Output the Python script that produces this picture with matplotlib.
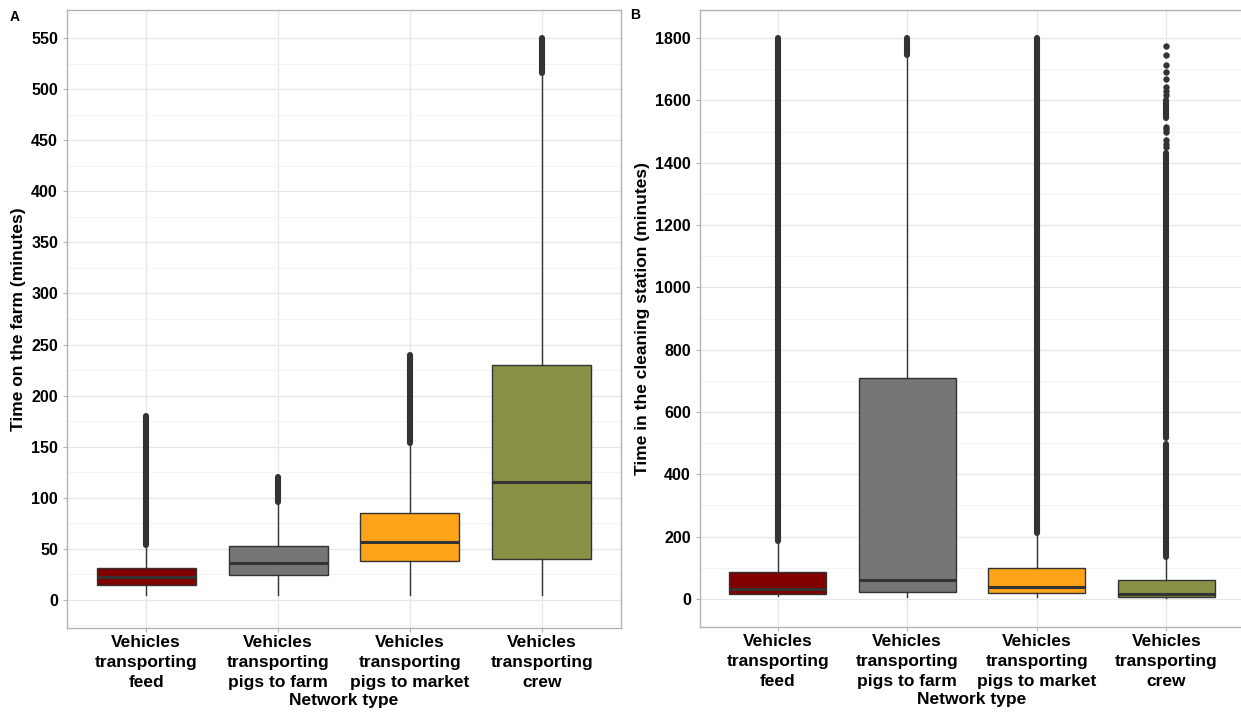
import matplotlib
matplotlib.use("Agg")
import matplotlib.pyplot as plt
from matplotlib.ticker import MultipleLocator

plt.rcParams["font.family"] = ["Liberation Sans", "DejaVu Sans"]
plt.rcParams["font.weight"] = "bold"

# Network types (x categories) and box fill colours
categories = ["Vehicles\ntransporting\nfeed",
              "Vehicles\ntransporting\npigs to farm",
              "Vehicles\ntransporting\npigs to market",
              "Vehicles\ntransporting\ncrew"]
colors = ["#800000", "#767676", "#FFA319", "#8A9045"]

# Panel A: time on the farm (minutes)
farm_whislo = [5, 5, 5, 5]
farm_q1 = [15, 24.5, 38.5, 40.5]
farm_med = [22.5, 36.5, 56.5, 115]
farm_q3 = [31, 53, 85, 230]
farm_whishi = [53, 94, 152, 514]
farm_outlier_ranges = [[(54, 180)], [(96, 120)], [(154, 240)], [(516, 550)]]
farm_outlier_points = [[], [], [], []]

# Panel B: time in the cleaning station (minutes)
clean_whislo = [10, 5, 7, 2]
clean_q1 = [16, 23, 20, 5]
clean_med = [33, 60, 37, 16]
clean_q3 = [85, 710, 99, 61]
clean_whishi = [185, 1740, 211, 132]
clean_outlier_ranges = [[(187, 1800)], [(1745, 1800)], [(213, 1800)],
                        [(134, 496), (518, 1430), (1542, 1600)]]
clean_outlier_points = [[], [], [],
                        [1451, 1460, 1472, 1499, 1508, 1515, 1617, 1630,
                         1643, 1670, 1691, 1713, 1745, 1774]]

EDGE = "#333333"
GRID_MAJOR = "#e6e6e6"
GRID_MINOR = "#f3f3f3"
BORDER = "#b3b3b3"


def draw_panel(ax, whislo, q1, med, q3, whishi, ranges, points,
               ylim, major, ylabel):
    stats = []
    for i in range(len(categories)):
        stats.append(dict(whislo=whislo[i], q1=q1[i], med=med[i],
                          q3=q3[i], whishi=whishi[i], fliers=[]))
    pos = list(range(1, len(categories) + 1))
    bp = ax.bxp(stats, positions=pos, widths=0.75, patch_artist=True,
                showfliers=False, showcaps=False,
                boxprops=dict(edgecolor=EDGE, linewidth=1.0),
                medianprops=dict(color=EDGE, linewidth=2.2),
                whiskerprops=dict(color=EDGE, linewidth=1.0),
                zorder=3)
    for patch, c in zip(bp["boxes"], colors):
        patch.set_facecolor(c)
    # outliers: dense runs drawn as rounded strokes, sparse ones as dots
    for p, segs, pts in zip(pos, ranges, points):
        for lo, hi in segs:
            ax.plot([p, p], [lo, hi], color=EDGE, lw=4.4,
                    solid_capstyle="round", zorder=4)
        if pts:
            ax.plot([p] * len(pts), pts, "o", color=EDGE, ms=4.6,
                    mew=0, zorder=4)

    ax.set_xlim(0.4, 4.6)
    ax.set_ylim(*ylim)
    ax.yaxis.set_major_locator(MultipleLocator(major))
    ax.yaxis.set_minor_locator(MultipleLocator(major / 2))
    ax.set_xticks(pos)
    ax.set_xticklabels(categories, fontsize=12.5, fontweight="bold",
                       linespacing=1.42)
    ax.tick_params(axis="y", labelsize=11.5, colors=BORDER,
                   labelcolor="black", length=3, width=0.8)
    ax.tick_params(axis="y", which="minor", length=0)
    ax.tick_params(axis="x", colors=BORDER, labelcolor="black",
                   length=3, width=0.8, pad=2)
    for lab in ax.get_yticklabels():
        lab.set_fontweight("bold")
    ax.grid(True, which="major", color=GRID_MAJOR, lw=0.9, zorder=0)
    ax.grid(True, which="minor", axis="y", color=GRID_MINOR, lw=0.8,
            zorder=0)
    ax.set_axisbelow(True)
    for s in ax.spines.values():
        s.set_color(BORDER)
        s.set_linewidth(1.0)
    ax.set_xlabel("Network type", fontsize=12.5, fontweight="bold",
                  labelpad=2)
    ax.set_ylabel(ylabel, fontsize=12.5, fontweight="bold", labelpad=4)


fig = plt.figure(figsize=(12.41, 7.12), dpi=100)
W, H = 1241, 712
axA = fig.add_axes([67 / W, (H - 628) / H, 554 / W, 618 / H])
axB = fig.add_axes([700 / W, (H - 627) / H, 544 / W, 617 / H])

draw_panel(axA, farm_whislo, farm_q1, farm_med, farm_q3, farm_whishi,
           farm_outlier_ranges, farm_outlier_points,
           (-27.5, 577.5), 50, "Time on the farm (minutes)")
draw_panel(axB, clean_whislo, clean_q1, clean_med, clean_q3, clean_whishi,
           clean_outlier_ranges, clean_outlier_points,
           (-90, 1890), 200, "Time in the cleaning station (minutes)")

fig.text(10 / W, 1 - 17 / H, "A", fontsize=10, fontweight="bold",
         va="center", ha="left")
fig.text(630 / W, 1 - 15 / H, "B", fontsize=10, fontweight="bold",
         va="center", ha="left")

fig.savefig("out.png", dpi=100, facecolor="white")
